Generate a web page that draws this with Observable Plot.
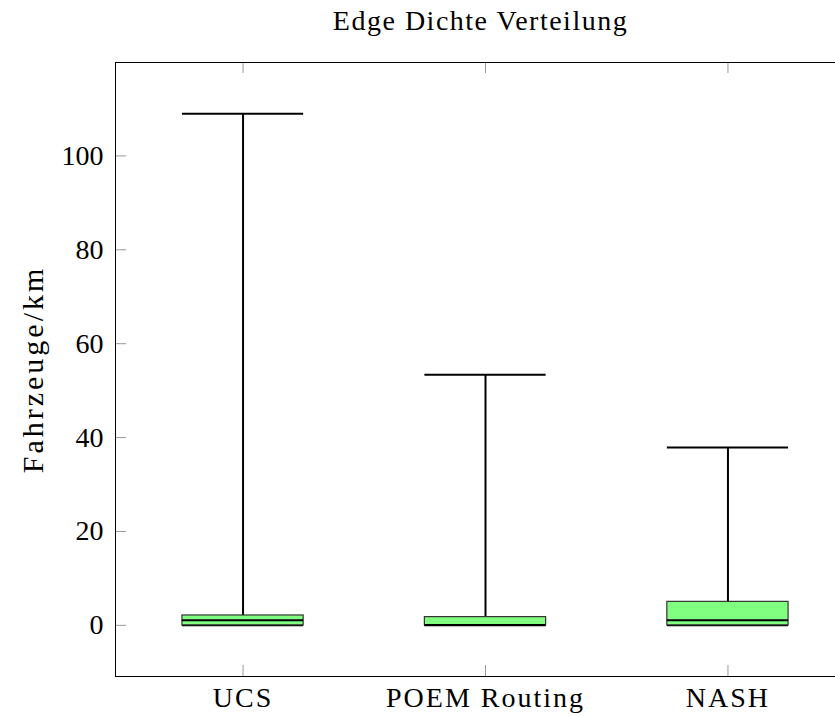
<!DOCTYPE html>
<html>
<head>
<meta charset="utf-8">
<script src="https://cdn.jsdelivr.net/npm/d3@7"></script>
<script src="https://cdn.jsdelivr.net/npm/@observablehq/plot@0.6"></script>
<style>
  html, body { margin: 0; padding: 0; background: #fff; }
</style>
</head>
<body>
<div id="chart"></div>
<script>
const title = "Edge Dichte Verteilung";
const yLabel = "Fahrzeuge/km";
const categories = ["UCS", "POEM Routing", "NASH"];
const positions = [1, 2, 3];
const whiskerLow = [0, 0, 0];
const q1 = [0, 0, 0];
const median = [1.1, 0.05, 1.1];
const q3 = [2.1, 1.75, 5.0];
const whiskerHigh = [109.0, 53.4, 37.9];
const yTicks = [0, 20, 40, 60, 80, 100];

const boxes = categories.map((c, i) => ({
  cat: c, pos: positions[i], lo: whiskerLow[i], q1: q1[i], med: median[i], q3: q3[i], hi: whiskerHigh[i]
}));

const yDomain = [-10.9, 119.9];
const xDomain = [0.474, 3.526];
const W = 835, H = 717;
const mL = 115, mT = 62, mB = 41;
const xRange = [mL, 855];
const halfBox = 0.25;
const tickPx = 11;
const tickY = tickPx / (H - mT - mB) * (yDomain[1] - yDomain[0]);
const tickX = tickPx / (xRange[1] - xRange[0]) * (xDomain[1] - xDomain[0]);

const font = "'Liberation Serif', 'Times New Roman', 'DejaVu Serif', serif";
const chart = Plot.plot({
  width: W, height: H,
  marginLeft: mL, marginTop: mT, marginBottom: mB, marginRight: 0,
  style: { fontFamily: font, fontSize: "28px", color: "#000", background: "#fff" },
  x: { type: "linear", domain: xDomain, range: xRange, axis: null },
  y: { domain: yDomain, axis: null },
  marks: [
    Plot.ruleX(boxes, { x: "pos", y1: "q3", y2: "hi", stroke: "#000", strokeWidth: 2 }),
    Plot.ruleX(boxes, { x: "pos", y1: "lo", y2: "q1", stroke: "#000", strokeWidth: 2 }),
    Plot.ruleY(boxes, { y: "hi", x1: d => d.pos - halfBox, x2: d => d.pos + halfBox, stroke: "#000", strokeWidth: 2 }),
    Plot.ruleY(boxes, { y: "lo", x1: d => d.pos - halfBox, x2: d => d.pos + halfBox, stroke: "#000", strokeWidth: 2 }),
    Plot.rect(boxes, { x1: d => d.pos - halfBox, x2: d => d.pos + halfBox, y1: "q1", y2: "q3",
      fill: "#80ff80", stroke: "#333", strokeWidth: 1.2 }),
    Plot.ruleY(boxes, { y: "med", x1: d => d.pos - halfBox, x2: d => d.pos + halfBox, stroke: "#000", strokeWidth: 2 }),
    Plot.ruleX(positions, { x: d => d, y1: yDomain[0], y2: yDomain[0] + tickY, stroke: "#999", strokeWidth: 1 }),
    Plot.ruleX(positions, { x: d => d, y1: yDomain[1] - tickY, y2: yDomain[1], stroke: "#999", strokeWidth: 1 }),
    Plot.ruleY(yTicks, { y: d => d, x1: xDomain[0], x2: xDomain[0] + tickX, stroke: "#999", strokeWidth: 1 }),
    Plot.ruleY(yDomain, { stroke: "#000", strokeWidth: 1 }),
    Plot.ruleX([xDomain[0]], { stroke: "#000", strokeWidth: 1 }),
    Plot.axisY({ ticks: yTicks, tickSize: 0, tickPadding: 12, label: null, fontSize: 28, fontFamily: font }),
    Plot.axisX({ ticks: positions, tickFormat: d => categories[d - 1], tickSize: 0, tickPadding: 11, label: null,
      fontSize: 28, fontFamily: font }),
    Plot.text([yLabel], { frameAnchor: "left", text: d => d, rotate: -90, dx: -82, textAnchor: "middle",
      lineAnchor: "middle", fontSize: 30, fontFamily: font, fill: "#000" }),
    Plot.text([title], { frameAnchor: "top", text: d => d, dx: 5, dy: -41, textAnchor: "middle",
      lineAnchor: "middle", fontSize: 28, fontFamily: font, fill: "#000" })
  ]
});
const svg = d3.select(chart);
svg.selectAll("g[aria-label='x-axis tick label'] text").attr("letter-spacing", "2px");
svg.selectAll("text").filter(function () { return this.textContent === yLabel; }).attr("letter-spacing", "3px");
svg.selectAll("text").filter(function () { return this.textContent === title; }).attr("letter-spacing", "1.5px");
document.getElementById("chart").appendChild(chart);
</script>
</body>
</html>
